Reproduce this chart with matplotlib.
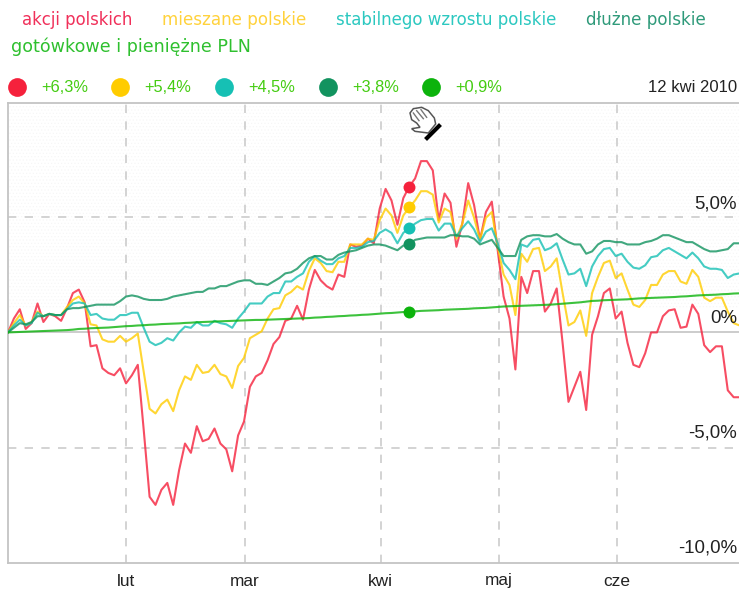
import matplotlib
matplotlib.use("Agg")
import matplotlib.pyplot as plt
from matplotlib.patches import Polygon
from matplotlib.lines import Line2D

W, H = 739, 590

# zwroty w %, jeden punkt na dzien sesyjny
akcji = [0.0, 0.6, 1.0, 0.15, 0.4, 1.25, 0.45, 0.8, 0.7, 0.5, 1.05, 1.7, 1.85, 1.3, -0.6, -0.55, -1.55, -1.75, -1.85, -1.55,
         -2.2, -1.85, -1.4, -4.2, -7.1, -7.45, -6.8, -6.5, -7.45, -5.95, -4.8, -5.2, -4.05, -4.7, -4.6, -4.15, -4.8, -5.05, -6.0, -4.45,
         -3.85, -2.35, -1.9, -1.75, -1.2, -0.5, -0.2, 0.5, 0.6, 1.15, 0.55, 1.85, 2.7, 2.25, 2.0, 1.85, 2.5, 2.4, 3.8, 3.7,
         3.75, 4.05, 3.85, 5.35, 6.2, 5.7, 4.65, 5.8, 6.3, 6.65, 7.4, 7.4, 7.0, 4.85, 6.0, 5.6, 3.7, 4.7, 6.45, 5.5,
         4.0, 5.2, 5.65, 3.55, 1.55, 0.6, -1.6, 2.4, 1.7, 2.65, 2.65, 0.9, 1.25, 1.9, -0.45, -3.0, -2.35, -1.7, -3.35, -0.1,
         0.7, 1.7, 1.9, 0.6, 0.9, -0.45, -1.4, -1.5, -0.9, 0.0, 0.0, 0.7, 0.95, 1.0, 0.2, 0.25, 1.2, 0.8, -0.55, -0.85,
         -0.6, -0.6, -2.5, -2.8, -2.8]
mieszane = [0.0, 0.4, 0.75, 0.3, 0.45, 0.9, 0.7, 0.8, 0.75, 0.75, 1.1, 1.4, 1.55, 1.25, 0.35, 0.3, -0.3, -0.4, -0.4, -0.15,
            -0.4, -0.25, -0.05, -1.7, -3.3, -3.5, -3.1, -2.9, -3.4, -2.5, -1.9, -2.05, -1.4, -1.75, -1.7, -1.4, -1.8, -1.9, -2.4, -1.45,
            -1.1, -0.25, -0.1, 0.05, 0.6, 1.0, 1.05, 1.6, 1.75, 2.0, 1.85, 2.65, 3.2, 3.0, 2.65, 2.6, 3.05, 3.05, 3.8, 3.8,
            3.8, 4.05, 4.0, 4.85, 5.35, 5.05, 4.3, 5.05, 5.4, 5.7, 6.1, 6.1, 5.95, 4.75, 5.35, 5.2, 4.05, 4.7, 5.7, 4.95,
            4.0, 4.95, 5.2, 3.7, 2.5, 2.05, 0.75, 3.4, 3.05, 3.6, 3.65, 2.65, 2.85, 3.2, 1.7, 0.3, 0.45, 0.95, -0.15, 1.7,
            2.4, 3.0, 3.1, 2.35, 2.55, 1.85, 1.2, 1.1, 1.4, 2.05, 2.05, 2.5, 2.65, 2.65, 2.2, 2.1, 2.7, 2.4, 1.5, 1.35,
            1.5, 1.5, 0.9, 0.4, 0.3]
stabilnego = [0.0, 0.3, 0.55, 0.3, 0.4, 0.85, 0.7, 0.8, 0.75, 0.75, 1.0, 1.25, 1.3, 1.25, 0.75, 0.8, 0.6, 0.55, 0.55, 0.75,
              0.75, 0.85, 0.85, 0.2, -0.4, -0.55, -0.45, -0.25, -0.35, 0.0, 0.25, 0.2, 0.45, 0.3, 0.3, 0.5, 0.4, 0.35, 0.2, 0.6,
              0.9, 1.25, 1.25, 1.25, 1.55, 1.7, 1.7, 2.2, 2.2, 2.4, 2.55, 3.05, 3.3, 3.1, 2.95, 2.95, 3.2, 3.3, 3.65, 3.65,
              3.7, 3.9, 3.95, 4.3, 4.45, 4.3, 3.85, 4.3, 4.5, 4.7, 4.85, 4.9, 4.9, 4.4, 4.7, 4.7, 4.15, 4.5, 4.8, 4.45,
              3.9, 4.35, 4.5, 3.85, 3.0, 2.7, 2.3, 3.8, 3.7, 4.0, 4.05, 3.55, 3.65, 3.85, 3.15, 2.5, 2.55, 2.75, 2.0, 2.85,
              3.3, 3.6, 3.65, 3.3, 3.4, 3.05, 2.8, 2.75, 2.9, 3.25, 3.3, 3.55, 3.65, 3.5, 3.35, 3.2, 3.45, 3.2, 2.85, 2.75,
              2.75, 2.7, 2.35, 2.5, 2.55]
dluzne = [0.0, 0.2, 0.4, 0.35, 0.45, 0.7, 0.7, 0.8, 0.75, 0.75, 1.0, 1.05, 1.05, 1.1, 1.15, 1.2, 1.2, 1.2, 1.2, 1.35,
          1.55, 1.6, 1.55, 1.45, 1.4, 1.4, 1.4, 1.45, 1.55, 1.6, 1.65, 1.7, 1.75, 1.75, 1.9, 1.9, 2.0, 2.0, 2.1, 2.2,
          2.25, 2.25, 2.1, 2.1, 2.05, 2.2, 2.35, 2.55, 2.6, 2.75, 3.0, 3.2, 3.3, 3.3, 3.15, 3.15, 3.35, 3.45, 3.5, 3.55,
          3.65, 3.75, 3.8, 3.8, 3.75, 3.65, 3.55, 3.75, 3.8, 4.0, 4.05, 4.1, 4.1, 4.1, 4.1, 4.2, 4.2, 4.15, 4.15, 4.05,
          3.8, 3.9, 4.0, 3.65, 3.3, 3.3, 3.3, 4.0, 4.15, 4.2, 4.2, 4.15, 4.15, 4.25, 4.05, 3.9, 3.8, 3.8, 3.4, 3.5,
          3.8, 3.95, 3.95, 3.9, 3.9, 3.8, 3.8, 3.8, 3.9, 3.95, 4.05, 4.2, 4.2, 4.1, 4.0, 3.9, 3.9, 3.75, 3.6, 3.5,
          3.5, 3.55, 3.6, 3.85, 3.85]
gotowkowe = [0.0, 0.01, 0.02, 0.03, 0.04, 0.05, 0.06, 0.07, 0.08, 0.09, 0.1, 0.12, 0.15, 0.16, 0.18, 0.19, 0.2, 0.21, 0.23, 0.25,
             0.27, 0.28, 0.3, 0.31, 0.33, 0.34, 0.36, 0.37, 0.38, 0.39, 0.41, 0.42, 0.44, 0.45, 0.46, 0.47, 0.48, 0.49, 0.5, 0.51,
             0.52, 0.53, 0.54, 0.54, 0.55, 0.56, 0.57, 0.58, 0.59, 0.6, 0.61, 0.62, 0.64, 0.65, 0.67, 0.68, 0.7, 0.71, 0.73, 0.74,
             0.76, 0.77, 0.79, 0.81, 0.83, 0.84, 0.86, 0.88, 0.9, 0.91, 0.93, 0.94, 0.95, 0.96, 0.98, 0.99, 1.0, 1.01, 1.02, 1.04,
             1.05, 1.06, 1.08, 1.1, 1.12, 1.13, 1.14, 1.15, 1.16, 1.17, 1.18, 1.19, 1.2, 1.22, 1.24, 1.26, 1.28, 1.3, 1.33, 1.36,
             1.37, 1.39, 1.4, 1.41, 1.42, 1.43, 1.45, 1.47, 1.48, 1.49, 1.5, 1.51, 1.52, 1.53, 1.55, 1.56, 1.58, 1.6, 1.61, 1.62,
             1.63, 1.65, 1.66, 1.68, 1.69]

nazwy = ["akcji polskich", "mieszane polskie", "stabilnego wzrostu polskie", "dłużne polskie", "gotówkowe i pieniężne PLN"]
zmiany = ["+6,3%", "+5,4%", "+4,5%", "+3,8%", "+0,9%"]
kolory = ["#f5213c", "#ffcc00", "#16c0b4", "#12935f", "#0cb30c"]
kolory_txt = ["#f0305a", "#ffd23c", "#2cc8c0", "#2f9a7a", "#2fc02f"]
dzien_wybrany = 68

miesiace = ["lut", "mar", "kwi", "maj", "cze"]
dni_miesiecy = [20, 40.15, 63.2, 83.2, 103.2]
y_ticks = [5, -5]
y_etykiety = [(5, "5,0%"), (0, "0%"), (-5, "-5,0%"), (-10, "-10,0%")]


def fx(px):
    return px / W


def fy(py):
    return 1 - py / H


plt.rcParams["font.family"] = ["Liberation Sans", "DejaVu Sans"]
plt.rcParams["hatch.linewidth"] = 0.4
fig = plt.figure(figsize=(W / 100, H / 100), dpi=100)
ax = fig.add_axes([fx(8), fy(563), fx(731), 460 / H])
ax.set_xlim(0, 123.9)
ax.set_ylim(-9.96, 9.91)

# delikatny wzor kropek w gornej czesci tla
ax.axhspan(1.0, 9.91, facecolor="white", edgecolor="#f5f5f5", hatch=".....", lw=0, zorder=0)

for d in dni_miesiecy:
    ax.axvline(d, color="#cccccc", lw=1.2, dashes=(5, 5), zorder=1)
for v in y_ticks:
    ax.axhline(v, color="#cccccc", lw=1.2, dashes=(5, 5), zorder=1)
ax.axhline(0, color="#cccccc", lw=1.4, zorder=1)

serie = [akcji, mieszane, stabilnego, dluzne, gotowkowe]
dni = list(range(len(akcji)))
for vals, kol in zip(serie, kolory):
    ax.plot(dni, vals, color=kol, lw=1.5, alpha=0.8, zorder=3, solid_joinstyle="round")
    ax.plot([dzien_wybrany], [vals[dzien_wybrany]], "o", color=kol, ms=8.6, mew=0, zorder=4)

ax.set_xticks([])
ax.set_yticks([])
for s in ["top", "bottom", "left"]:
    ax.spines[s].set_color("#c4c4c4")
    ax.spines[s].set_linewidth(1.3)
ax.spines["right"].set_visible(False)
ax.spines["left"].set_linestyle((0, (5, 1)))

# legenda - nazwy funduszy
poz_nazw = [(22, 20), (162, 20), (336, 20), (586, 20), (11, 47)]
rozm_nazw = [11.9, 12.1, 12.0, 12.1, 12.6]
for (x, y), t, k, r in zip(poz_nazw, nazwy, kolory_txt, rozm_nazw):
    fig.text(fx(x), fy(y), t, color=k, fontsize=r, family="DejaVu Sans", va="center", ha="left")

# kropki i zmiany
poz_kropek = [17, 120, 224, 328, 431]
for x, z, k in zip(poz_kropek, zmiany, kolory):
    fig.add_artist(Line2D([fx(x)], [fy(87)], marker="o", color=k, ms=13.5, mew=0, transform=fig.transFigure))
    fig.text(fx(x + 24), fy(87.5), z, color="#44cc11", fontsize=11.8, va="center", ha="left")
fig.text(fx(737), fy(87.5), "12 kwi 2010", color="#222222", fontsize=12, va="center", ha="right")

# etykiety osi
for d, m in zip(dni_miesiecy, miesiace):
    ax.annotate(m, (d, 0), xycoords=("data", "axes fraction"), xytext=(0, -18), textcoords="offset pixels",
                ha="center", va="center", fontsize=12.4, color="#222222")
for v, t in y_etykiety:
    yp = {5: 204, 0: 318.5, -5: 433, -10: 548}[v]
    fig.text(fx(737), fy(yp), t, ha="right", va="center", fontsize=13.4, color="#222222", zorder=10)

# reka - kursor
reka = [(45, 45), (55, 32), (80, 28), (100, 38), (118, 60), (122, 78), (100, 105), (60, 100), (50, 92), (75, 88), (65, 75), (50, 65)]
reka_fig = [(fx(395 + a / 3), fy(98 + b / 3)) for a, b in reka]
fig.add_artist(Polygon(reka_fig, closed=True, fc="white", ec="#555555", lw=1.1, transform=fig.transFigure, zorder=6))
for (a, b), (c, e) in [((55, 45), (72, 68)), ((65, 38), (85, 62)), ((78, 35), (95, 58))]:
    fig.add_artist(Line2D([fx(395 + a / 3), fx(395 + c / 3)], [fy(98 + b / 3), fy(98 + e / 3)], color="#777777", lw=1,
                          transform=fig.transFigure, zorder=7))
fig.add_artist(Line2D([fx(427), fx(439)], [fy(138), fy(126)], color="black", lw=3, transform=fig.transFigure, zorder=7))

fig.savefig("out.png", dpi=100)
